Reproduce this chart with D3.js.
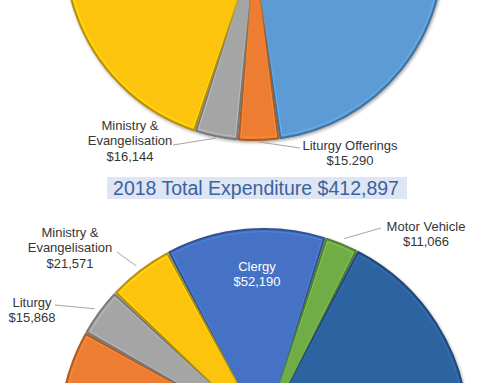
<!DOCTYPE html>
<html><head><meta charset="utf-8">
<script src="https://cdn.jsdelivr.net/npm/d3@7"></script>
<style>html,body{margin:0;padding:0;background:#fff;} svg{display:block;}</style>
</head><body><svg id="chart" width="500" height="383"></svg>
<script>
// ---- Upper pie (only its lower part is visible) ----
const topCategories = ["", "Liturgy Offerings", "Ministry & Evangelisation", "", "", ""];
const topValues = [209100, 15290, 16144, 120000, 44000, 32400];
const topValueLabels = ["", "$15.290", "$16,144", "", "", ""];
const topColors = ["#5B9BD5", "#ED7D31", "#A5A5A5", "#FDC411", "#4472C4", "#70AD47"];

// ---- Title ----
const titleText = "2018 Total Expenditure $412,897";

// ---- Lower pie: 2018 expenditure (only its upper part is visible) ----
const bottomCategories = ["Clergy", "Motor Vehicle", "", "", "", "", "Liturgy", "Ministry & Evangelisation"];
const bottomValues = [52190, 11066, 140000, 38000, 34202, 100000, 15868, 21571];
const bottomValueLabels = ["$52,190", "$11,066", "", "", "", "", "$15,868", "$21,571"];
const bottomColors = ["#4472C4", "#70AD47", "#2D64A2", "#9E480E", "#5B9BD5", "#ED7D31", "#A5A5A5", "#FDC411"];

// ---- layout (not data) ----
const topLayout = {cx: 254, cy: -49, r: 189, start: 0, leaderR: 2,
  labels: {
    1: {x: 350, y: 150, lx: 300, ly: 148},
    2: {x: 130, y: 130, lx: 173, ly: 145}
  }};
const bottomLayout = {cx: 264, cy: 433, r: 204, start: -28, leaderR: 6,
  labels: {
    0: {x: 257, y: 271, inside: true},
    1: {x: 426, y: 231, lx: 381, ly: 228},
    6: {x: 32, y: 307, lx: 55, ly: 305},
    7: {x: 70, y: 237, lx: 117, ly: 252}
  }};

const svg = d3.select("#chart");
const defs = svg.append("defs");
const f = defs.append("filter").attr("id", "shadow").attr("x", "-10%").attr("y", "-10%").attr("width", "120%").attr("height", "120%");
f.append("feDropShadow").attr("dx", 1).attr("dy", 1.5).attr("stdDeviation", 1.6)
  .attr("flood-color", "#000").attr("flood-opacity", 0.35);

function drawPie(values, colors, cats, valLabels, L) {
  const rad = Math.PI / 180;
  const pie = d3.pie().sort(null).value(d => d)
    .startAngle(L.start * rad).endAngle(L.start * rad + 2 * Math.PI);
  const arcs = pie(values);
  const arc = d3.arc().innerRadius(0).outerRadius(L.r).padAngle(0.011);
  const arcIn = d3.arc().innerRadius(0).outerRadius(L.r - 2.5).padAngle(0.03);
  const g = svg.append("g").attr("transform", `translate(${L.cx},${L.cy})`);
  const gs = g.append("g").attr("filter", "url(#shadow)");
  gs.selectAll("path.slice").data(arcs).join("path")
    .attr("class", "slice")
    .attr("d", arc)
    .attr("fill", (d, i) => colors[i])
    .attr("stroke", (d, i) => d3.color(colors[i]).darker(0.9))
    .attr("stroke-width", 2)
    .attr("stroke-linejoin", "round");
  g.selectAll("path.bevel").data(arcs).join("path")
    .attr("class", "bevel")
    .attr("d", arcIn)
    .attr("fill", "none")
    .attr("stroke", (d, i) => d3.color(colors[i]).brighter(0.7))
    .attr("stroke-opacity", 0.55)
    .attr("stroke-width", 1);

  // labels
  arcs.forEach((d, i) => {
    const lab = L.labels[i];
    if (!lab) return;
    const lines = cats[i].replace("& ", "&\n").split("\n").concat([valLabels[i]]);
    const mid = (d.startAngle + d.endAngle) / 2;
    if (!lab.inside) {
      const rr = L.r + L.leaderR;
      const ex = L.cx + rr * Math.sin(mid), ey = L.cy - rr * Math.cos(mid);
      svg.append("line").attr("x1", lab.lx).attr("y1", lab.ly).attr("x2", ex).attr("y2", ey)
        .attr("stroke", "#a6a6a6").attr("stroke-width", 1);
    }
    const t = svg.append("text")
      .attr("text-anchor", "middle")
      .attr("font-family", "Liberation Sans, Arial, sans-serif")
      .attr("font-size", 13)
      .attr("fill", lab.inside ? "#ffffff" : "#363636");
    lines.forEach((s, k) => {
      t.append("tspan").attr("x", lab.x).attr("y", lab.y + k * 15.3).text(s);
    });
  });
}

drawPie(topValues, topColors, topCategories, topValueLabels, topLayout);
drawPie(bottomValues, bottomColors, bottomCategories, bottomValueLabels, bottomLayout);

// title with box
svg.append("rect").attr("x", 107).attr("y", 177).attr("width", 300).attr("height", 22)
  .attr("fill", "#dde6f2");
svg.append("text").attr("x", 256).attr("y", 194.5).attr("text-anchor", "middle")
  .attr("font-family", "Liberation Sans, Arial, sans-serif").attr("font-size", 19.5)
  .attr("fill", "#3B62A0").text(titleText);
</script></body></html>
